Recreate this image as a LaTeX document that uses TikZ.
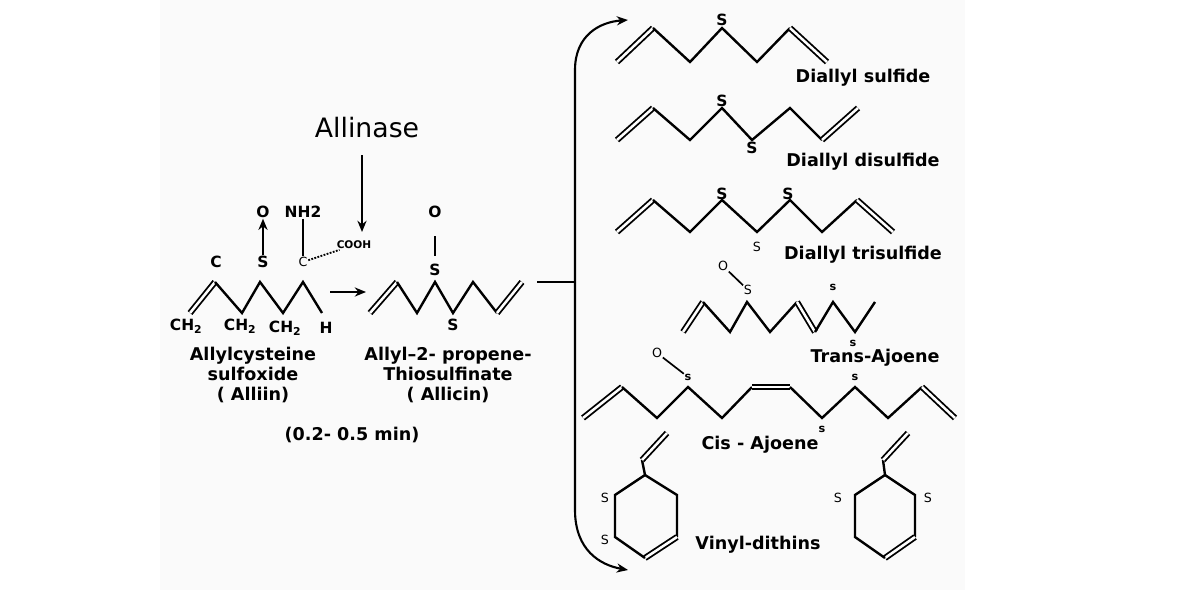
\documentclass[tikz,border=0pt]{standalone}
\usepackage{fontspec}
\setmainfont{DejaVu Sans}
\usetikzlibrary{arrows.meta}
\definecolor{paper}{RGB}{250,250,250}

\tikzset{
  bond/.style={line width=3.4pt, line join=miter},
  dbl/.style={double, line width=2.6pt, double distance=3.6pt},
  lbl/.style={font=\bfseries\fontsize{25}{29}\selectfont, align=center},
  atom/.style={font=\bfseries\fontsize{22}{25}\selectfont, inner sep=1pt},
  tiny/.style={font=\fontsize{18}{20}\selectfont, inner sep=1pt},
  smalls/.style={font=\bfseries\fontsize{16}{18}\selectfont, inner sep=1pt},
  arr/.style={line width=3pt, -{Stealth[length=16pt,width=13pt]}},
}

\begin{document}
\begin{tikzpicture}[x=0.05cm, y=-0.05cm]
    \useasboundingbox (0,0) rectangle (1200,600);
    \fill[paper] (160,0) rectangle (965,590);

    % alliin
    \node[font=\fontsize{38}{42}\selectfont] (enz) at (367,128) {Allinase};
    \coordinate (enzE) at (362,232);
    \draw[arr] (362,155) -- (enzE);
    \node[atom] (o1) at (263,212) {O};
    \node[atom] (nh) at (303,212) {NH2};
    \node[atom] (c1) at (216,262) {C};
    \node[atom] (s1) at (263,262) {S};
    \node[tiny] (c2) at (303,262) {C};
    \node[font=\bfseries\fontsize{15}{17}\selectfont, inner sep=1pt] (cooh) at (354,245) {COOH};
    \draw[arr, line width=2.6pt] (s1) -- (o1);
    \draw[bond] (nh) -- (c2);
    \draw[line width=2.6pt, dotted] (c2) -- (cooh);
    \draw[dbl] (190,313) -- (215,282);
    \draw[bond] (215,282) -- (242,313) -- (260,282) -- (283,313) -- (303,282) -- (322,313);
    \node[atom] (ch1) at (186,326) {CH\textsubscript{2}};
    \node[atom] (ch2) at (240,326) {CH\textsubscript{2}};
    \node[atom] (ch3) at (285,328) {CH\textsubscript{2}};
    \node[atom] (h1) at (326,328) {H};
    \node[lbl] (alliin) at (253,375) {Allylcysteine\\sulfoxide\\( Alliin)};
    \node[lbl] (time) at (352,435) {(0.2- 0.5 min)};

    % allicin
    \coordinate (ra) at (330,292);
    \coordinate (rb) at (366,292);
    \draw[arr] (ra) -- (rb);
    \draw[dbl] (370,313) -- (397,282);
    \draw[bond] (397,282) -- (417,313) -- (435,282) -- (453,313) -- (473,282) -- (497,313);
    \draw[dbl] (497,313) -- (522,282);
    \node[atom] (o2) at (435,212) {O};
    \node[atom] (s2) at (435,270) {S};
    \node[atom] (s3) at (453,325) {S};
    \draw[bond] (435,236) -- (435,256);
    \node[lbl] (allicin) at (448,375) {Allyl--2- propene-\\Thiosulfinate\\( Allicin)};

    % branch
    \draw[bond] (537,282) -- (575,282);
    \coordinate (top) at (628,20);
    \coordinate (bot) at (628,570);
    \draw[arr] (575,282) -- (575,70) .. controls (575,35) and (600,22) .. (top);
    \draw[arr] (575,282) -- (575,510) .. controls (575,550) and (600,565) .. (bot);

    % diallyl sulfide
    \draw[dbl] (617,62) -- (653,28);
    \draw[bond] (653,28) -- (690,62) -- (722,28) -- (757,62) -- (790,28);
    \draw[dbl] (790,28) -- (827,62);
    \node[atom] (s4) at (722,20) {S};
    \node[lbl] (dsul) at (863,78) {Diallyl sulfide};

    % diallyl disulfide
    \draw[dbl] (617,140) -- (653,108);
    \draw[bond] (653,108) -- (690,140) -- (722,108) -- (752,140) -- (790,108) -- (822,140);
    \draw[dbl] (822,140) -- (858,108);
    \node[atom] (s5) at (722,101) {S};
    \node[atom] (s6) at (752,148) {S};
    \node[lbl] (ddis) at (863,162) {Diallyl disulfide};

    % diallyl trisulfide
    \draw[dbl] (617,232) -- (653,200);
    \draw[bond] (653,200) -- (690,232) -- (722,200) -- (757,232) -- (790,200) -- (822,232) -- (857,200);
    \draw[dbl] (857,200) -- (893,232);
    \node[atom] (s7) at (722,194) {S};
    \node[atom] (s8) at (788,194) {S};
    \node[tiny] (s9) at (757,247) {S};
    \node[lbl] (dtri) at (863,255) {Diallyl trisulfide};

    % trans-ajoene
    \draw[dbl] (683,332) -- (703,302);
    \draw[bond] (703,302) -- (730,332) -- (747,302) -- (770,332) -- (797,302);
    \draw[dbl] (797,302) -- (815,332);
    \draw[bond] (815,332) -- (833,302) -- (855,332) -- (875,302);
    \node[tiny] (o3) at (723,266) {O};
    \node[tiny] (s10) at (748,290) {S};
    \draw[line width=2.4pt] (o3) -- (s10);
    \node[smalls] (s11) at (833,287) {s};
    \node[smalls] (s12) at (853,343) {s};
    \node[lbl] (trans) at (875,358) {Trans-Ajoene};

    % cis-ajoene
    \draw[dbl] (583,418) -- (622,387);
    \draw[bond] (622,387) -- (657,418) -- (688,387) -- (722,418) -- (752,387);
    \draw[dbl] (752,387) -- (790,387);
    \draw[bond] (790,387) -- (822,418) -- (855,387) -- (888,418) -- (922,387);
    \draw[dbl] (922,387) -- (955,418);
    \node[tiny] (o4) at (657,353) {O};
    \node[smalls] (s13) at (688,377) {s};
    \draw[line width=2.4pt] (o4) -- (s13);
    \node[smalls] (s14) at (855,377) {s};
    \node[smalls] (s15) at (822,429) {s};
    \node[lbl] (cis) at (760,445) {Cis - Ajoene};

    % vinyl-dithiins
    \draw[bond] (645,475) -- (677,495) -- (677,537);
    \draw[dbl] (677,537) -- (645,558);
    \draw[bond] (645,558) -- (615,537) -- (615,495) -- (645,475) -- (642,460);
    \draw[dbl] (642,460) -- (667,433);
    \node[tiny] (s16) at (605,498) {S};
    \node[tiny] (s17) at (605,540) {S};
    \draw[bond] (885,475) -- (915,495) -- (915,537);
    \draw[dbl] (915,537) -- (885,558);
    \draw[bond] (885,558) -- (855,537) -- (855,495) -- (885,475) -- (883,460);
    \draw[dbl] (883,460) -- (908,433);
    \node[tiny] (s18) at (838,498) {S};
    \node[tiny] (s19) at (928,498) {S};
    \node[lbl] (vin) at (758,545) {Vinyl-dithins};
\end{tikzpicture}
\end{document}
